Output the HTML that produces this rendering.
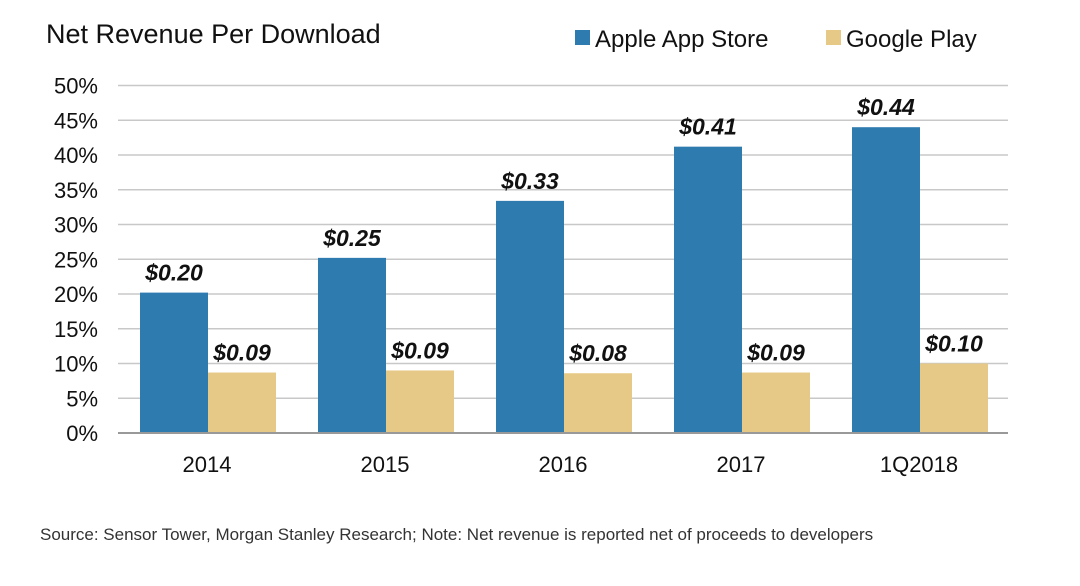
<!DOCTYPE html>
<html><head><meta charset="utf-8"><style>
body{margin:0;background:#fff;font-family:"Liberation Sans",Arial,sans-serif}
</style></head><body>
<svg width="1080" height="581" xmlns="http://www.w3.org/2000/svg">
<text x="46" y="43" font-size="27" fill="#111">Net Revenue Per Download</text>
<g>
<rect x="575" y="30" width="15" height="15" fill="#2e7bb0"/>
<text x="595" y="47" font-size="24" fill="#111">Apple App Store</text>
<rect x="826" y="30" width="15" height="15" fill="#e6c987"/>
<text x="846" y="47" font-size="24" fill="#111">Google Play</text>
</g>
<g id="grid"></g><g id="bars"></g><g id="labels"></g>
<text x="40" y="540" font-size="17" fill="#333">Source: Sensor Tower, Morgan Stanley Research; Note: Net revenue is reported net of proceeds to developers</text>
</svg>
<script>
const categories=["2014","2015","2016","2017","1Q2018"];
const appleValues=[20.2,25.2,33.4,41.2,44.0];
const googleValues=[8.7,9.0,8.6,8.7,10.0];
const appleLabels=["$0.20","$0.25","$0.33","$0.41","$0.44"];
const googleLabels=["$0.09","$0.09","$0.08","$0.09","$0.10"];
const yTicks=[0,5,10,15,20,25,30,35,40,45,50];
const NS="http://www.w3.org/2000/svg";
const x0=118,x1=1008,y0=433,yTop=85.5;
const y=v=>y0-(v/50)*(y0-yTop);
const band=(x1-x0)/categories.length;
function mk(t,a,p){const e=document.createElementNS(NS,t);for(const k in a)e.setAttribute(k,a[k]);p.appendChild(e);return e;}
const g=document.getElementById('grid'),b=document.getElementById('bars'),l=document.getElementById('labels');
yTicks.forEach(t=>{
 if(t>0){const ln=mk('line',{x1:x0,x2:x1,y1:y(t),y2:y(t),stroke:'#c8c8c8','stroke-width':1.5},g);
 }
 const tx=mk('text',{x:98,y:y(t)+8,'font-size':22,'text-anchor':'end',fill:'#111'},g);tx.textContent=t+'%';
 
});
categories.forEach((c,i)=>{
 const bx=x0+i*band+22,w=68;
 const r1=mk('rect',{x:bx,y:y(appleValues[i]),width:w,height:y0-y(appleValues[i]),fill:'#2e7bb0'},b);
 
 const r2=mk('rect',{x:bx+w,y:y(googleValues[i]),width:w,height:y0-y(googleValues[i]),fill:'#e6c987'},b);
 
 const t1=mk('text',{x:bx+w/2,y:y(appleValues[i])-12,'font-size':23,'font-weight':'bold','font-style':'italic','text-anchor':'middle',fill:'#111'},l);t1.textContent=appleLabels[i];
 
 const t2=mk('text',{x:bx+w*1.5,y:y(googleValues[i])-12,'font-size':23,'font-weight':'bold','font-style':'italic','text-anchor':'middle',fill:'#111'},l);t2.textContent=googleLabels[i];
 
 const xt=mk('text',{x:x0+i*band+band/2,y:472,'font-size':22,'text-anchor':'middle',fill:'#111'},l);xt.textContent=c;
 
});
const ax=mk('line',{x1:x0,x2:x1,y1:y0,y2:y0,stroke:'#999','stroke-width':2},l);

</script>
</body></html>
